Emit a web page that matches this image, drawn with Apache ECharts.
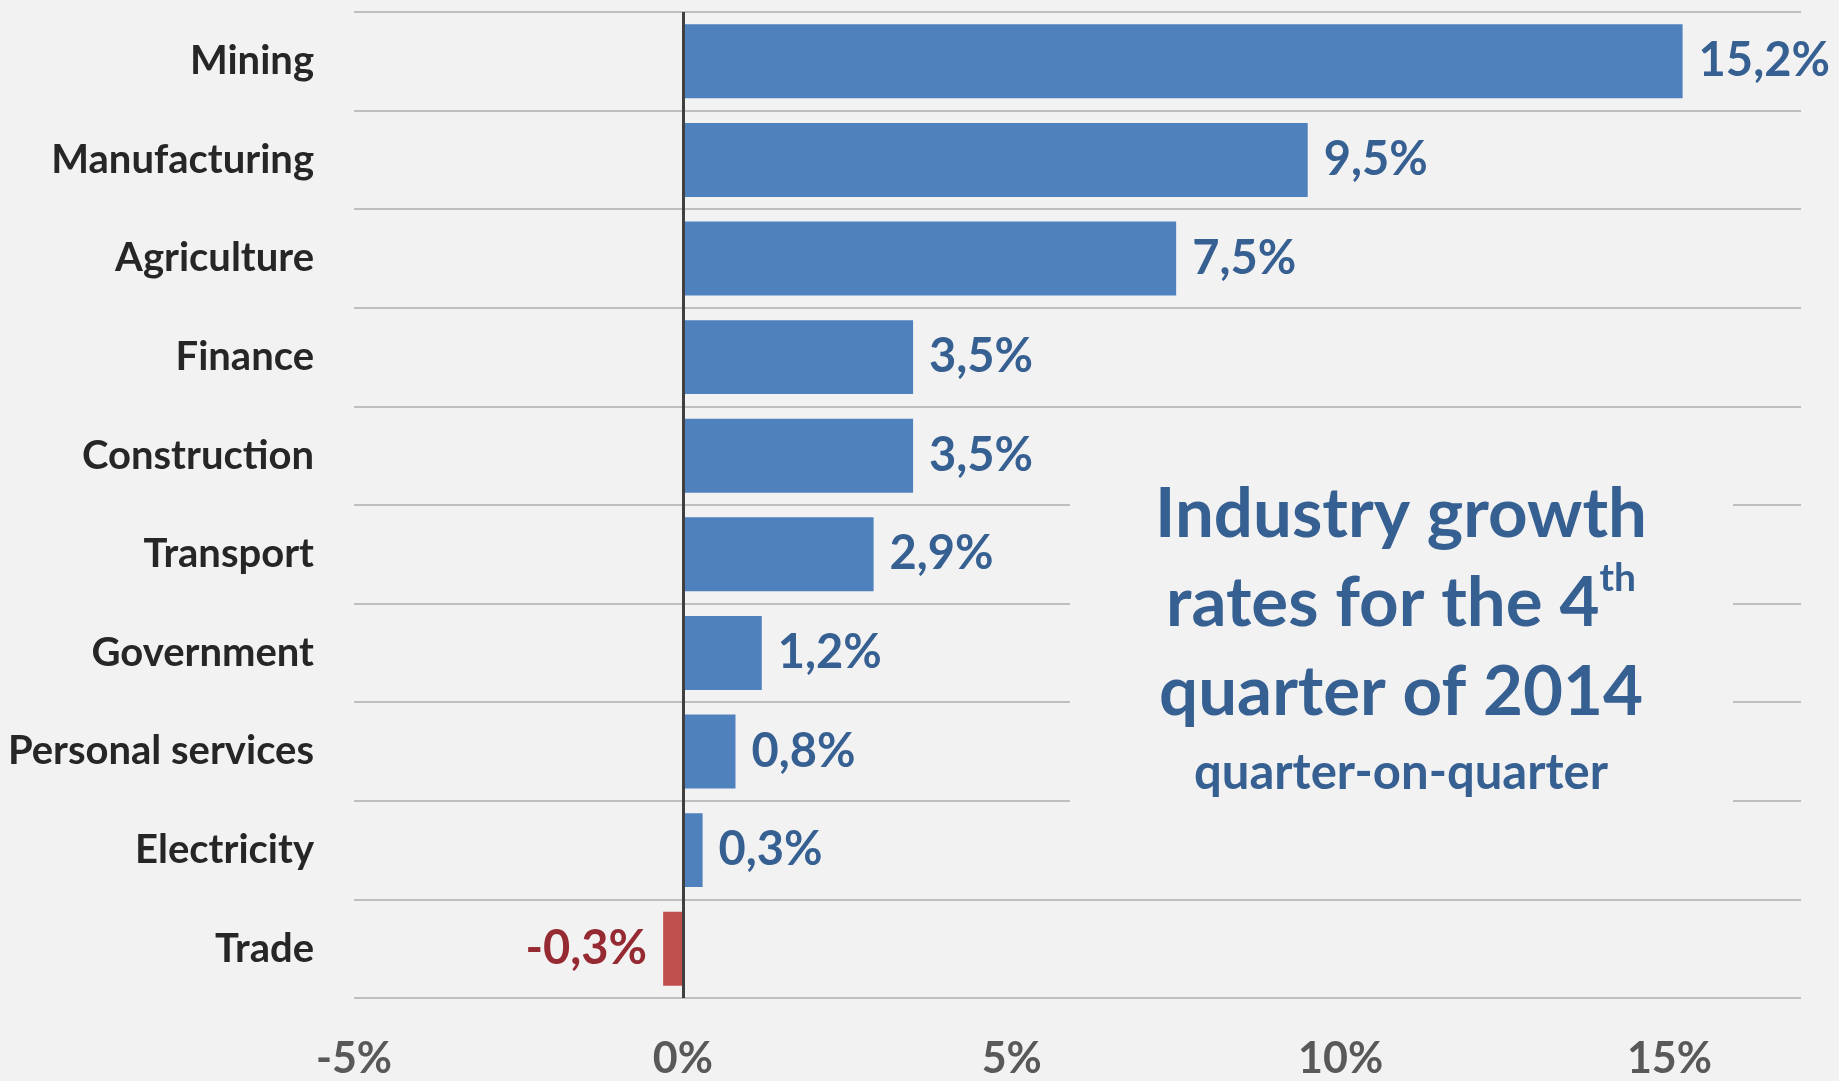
<!DOCTYPE html>
<html>
<head>
<meta charset="utf-8">
<script src="https://cdn.jsdelivr.net/npm/echarts@6/dist/echarts.min.js"></script>
<style>
  html, body { margin: 0; padding: 0; background: #f2f2f2; }
  #chart { width: 1839px; height: 1081px; }
</style>
</head>
<body>
<div id="chart"></div>
<script>
const industries = ['Mining', 'Manufacturing', 'Agriculture', 'Finance', 'Construction',
  'Transport', 'Government', 'Personal services', 'Electricity', 'Trade']
const growth = [15.2, 9.5, 7.5, 3.5, 3.5, 2.9, 1.2, 0.8, 0.3, -0.3]
const tickMin = -5
const tickMax = 17
const tickStep = 5

const fontFamily = 'Lato, "Open Sans", sans-serif'
const fmt = v => v.toFixed(1).replace('.', ',') + '%'

const chart = echarts.init(document.getElementById('chart'))
chart.setOption({
  backgroundColor: '#f2f2f2',
  animation: false,
  grid: { left: 354, right: 38, top: 12, bottom: 81 },
  xAxis: {
    type: 'value',
    min: tickMin,
    max: tickMax,
    interval: tickStep,
    axisLine: { show: false },
    axisTick: { show: false },
    splitLine: { show: false },
    axisLabel: {
      showMaxLabel: false,
      margin: 40,
      color: '#595959',
      fontFamily,
      fontWeight: 'bold',
      fontSize: 43,
      formatter: v => v + '%'
    }
  },
  yAxis: {
    type: 'category',
    data: industries,
    inverse: true,
    axisLine: { show: false },
    axisTick: { show: false },
    splitLine: { show: true, lineStyle: { color: '#bfbfbf', width: 2 } },
    axisLabel: {
      margin: 40,
      color: '#262626',
      fontFamily,
      fontWeight: 'bold',
      fontSize: 40
    }
  },
  series: [{
    type: 'bar',
    barCategoryGap: '25%',
    data: growth.map(v => ({
      value: v,
      itemStyle: { color: v < 0 ? '#c0504d' : '#4f81bd' },
      label: {
        position: v < 0 ? 'left' : 'right',
        color: v < 0 ? '#962a32' : '#376092'
      }
    })),
    label: {
      show: true,
      distance: 16,
      fontFamily,
      fontWeight: 'bold',
      fontSize: 47,
      formatter: p => fmt(p.value)
    },
    markLine: {
      silent: true,
      symbol: 'none',
      label: { show: false },
      lineStyle: { color: '#404040', width: 3, type: 'solid' },
      data: [{ xAxis: 0 }]
    }
  }],
  graphic: [
    {
      type: 'rect',
      z: 10,
      shape: { x: 1070, y: 495, width: 663, height: 320 },
      style: { fill: '#f2f2f2' }
    },
    {
      type: 'text',
      z: 11,
      x: 1401,
      y: 470,
      style: {
        text: 'Industry growth\nrates for the 4{sup|th}\nquarter of 2014\n{sub|quarter-on-quarter}',
        align: 'center',
        verticalAlign: 'top',
        fill: '#376092',
        fontFamily,
        fontWeight: 'bold',
        fontSize: 69,
        lineHeight: 89,
        rich: {
          sup: { fontSize: 39, fontWeight: 'bold', fontFamily, fill: '#376092', verticalAlign: 'top', lineHeight: 89, padding: [0, 0, 40, 0] },
          sub: { fontSize: 49, fontWeight: 'bold', fontFamily, fill: '#376092', lineHeight: 72 }
        }
      }
    }
  ]
})
</script>
</body>
</html>
